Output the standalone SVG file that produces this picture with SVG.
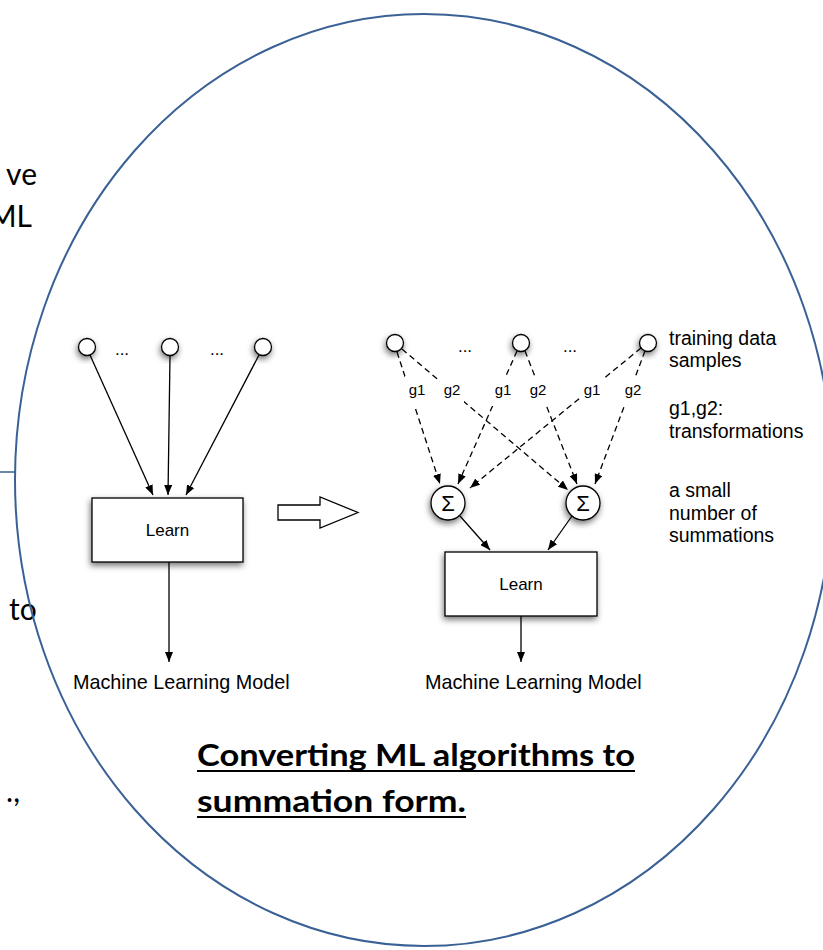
<svg xmlns="http://www.w3.org/2000/svg" width="823" height="950" viewBox="0 0 823 950">
<defs>
<filter id="sh" x="-50%" y="-50%" width="200%" height="200%">
<feDropShadow dx="-1" dy="3" stdDeviation="3" flood-color="#000" flood-opacity="0.55"/>
</filter>
<marker id="ah" viewBox="0 0 10 8" markerWidth="10" markerHeight="8" refX="10" refY="4" orient="auto" markerUnits="userSpaceOnUse">
<path d="M0,0 L10,4 L0,8 z" fill="#000"/>
</marker>
</defs>
<style>
.node{fill:#fff;stroke:#000;stroke-width:1.3;filter:url(#sh)}
.ln{stroke:#000;stroke-width:1.3;fill:none;marker-end:url(#ah)}
.dash{stroke-dasharray:6,4}
.lbl{font-family:"Liberation Sans",Arial,sans-serif;fill:#000}
.slide{font-family:Lato,"Open Sans",sans-serif;font-size:30px;fill:#000}
.title{font-family:Lato,"Open Sans",sans-serif;font-size:31px;font-weight:bold;fill:#000}
</style>
<rect width="823" height="950" fill="#fff"/>

<g id="slide-text">
<text class="slide" x="37" y="185" text-anchor="end">ve</text>
<text class="slide" x="32" y="227" text-anchor="end">ML</text>
<text class="slide" x="9" y="620">to</text>
<text class="slide" x="20" y="802" text-anchor="end">.,</text>
<line x1="0" y1="472" x2="15" y2="472" stroke="#3a6195" stroke-width="1.5"/>
</g>

<g id="oval">
<ellipse cx="424" cy="480" rx="409" ry="466" fill="none" stroke="#3a6195" stroke-width="2"/>
</g>

<g id="connectors">
<line class="ln" x1="90" y1="355" x2="153" y2="495"/>
<line class="ln" x1="170" y1="356" x2="168" y2="495"/>
<line class="ln" x1="259" y1="355" x2="186" y2="495"/>
<line class="ln" x1="169" y1="562" x2="169" y2="662"/>
<line class="ln dash" x1="397" y1="352" x2="440" y2="484"/>
<line class="ln dash" x1="402" y1="349" x2="568" y2="490"/>
<line class="ln dash" x1="517" y1="351" x2="458" y2="484"/>
<line class="ln dash" x1="525" y1="351" x2="577" y2="484"/>
<line class="ln dash" x1="641" y1="348" x2="470" y2="488"/>
<line class="ln dash" x1="645" y1="351" x2="595" y2="484"/>
<line class="ln" x1="460" y1="516" x2="490" y2="550"/>
<line class="ln" x1="572" y1="516" x2="548" y2="550"/>
<line class="ln" x1="521" y1="616" x2="521" y2="662"/>
<path d="M278,505 H320 V497 L358,512.5 L320,528 V520 H278 Z" fill="#fff" stroke="#000" stroke-width="1.3"/>
</g>

<g id="edge-labels">
<g fill="#fff">
<rect x="405" y="376" width="24" height="30"/>
<rect x="440" y="376" width="24" height="30"/>
<rect x="491" y="376" width="24" height="30"/>
<rect x="526" y="376" width="24" height="30"/>
<rect x="580" y="376" width="24" height="30"/>
<rect x="621" y="376" width="24" height="30"/>
</g>
<g class="lbl" font-size="15" text-anchor="middle">
<text x="417" y="395">g1</text>
<text x="452" y="395">g2</text>
<text x="503" y="395">g1</text>
<text x="538" y="395">g2</text>
<text x="592" y="395">g1</text>
<text x="633" y="395">g2</text>
</g>
</g>

<g id="left-inputs">
<circle class="node" cx="87" cy="347" r="8.5"/>
<circle class="node" cx="170" cy="347" r="8.5"/>
<circle class="node" cx="263" cy="347" r="8.5"/>
<text class="lbl" font-size="17" x="122" y="355" text-anchor="middle">...</text>
<text class="lbl" font-size="17" x="217" y="355" text-anchor="middle">...</text>
</g>

<g id="left-learn">
<rect class="node" x="92" y="498" width="151" height="64"/>
<text class="lbl" font-size="17" x="167.5" y="536" text-anchor="middle">Learn</text>
</g>
<g id="left-model">
<text class="lbl" font-size="19.8" x="73" y="689">Machine Learning Model</text>
</g>

<g id="right-inputs">
<circle class="node" cx="395" cy="343" r="8.5"/>
<circle class="node" cx="521" cy="343" r="8.5"/>
<circle class="node" cx="648" cy="343" r="8.5"/>
<text class="lbl" font-size="17" x="465" y="352" text-anchor="middle">...</text>
<text class="lbl" font-size="17" x="570" y="352" text-anchor="middle">...</text>
</g>

<g id="sum1">
<circle class="node" cx="448" cy="503" r="17"/>
<text class="lbl" font-size="22" x="448" y="511" text-anchor="middle">Σ</text>
</g>
<g id="sum2">
<circle class="node" cx="583" cy="503" r="17"/>
<text class="lbl" font-size="22" x="583" y="511" text-anchor="middle">Σ</text>
</g>

<g id="right-learn">
<rect class="node" x="445" y="552" width="152" height="64"/>
<text class="lbl" font-size="17" x="521" y="590" text-anchor="middle">Learn</text>
</g>
<g id="right-model">
<text class="lbl" font-size="19.8" x="425" y="689">Machine Learning Model</text>
</g>

<g id="legend" class="lbl" font-size="19.5">
<text x="669" y="345">training data</text>
<text x="669" y="367">samples</text>
<text x="669" y="415">g1,g2:</text>
<text x="669" y="438">transformations</text>
<text x="669" y="497">a small</text>
<text x="669" y="520">number of</text>
<text x="669" y="542">summations</text>
</g>

<g id="title">
<text class="title" x="197" y="766" textLength="438" lengthAdjust="spacingAndGlyphs">Converting ML algorithms to</text>
<line x1="197" y1="771" x2="635" y2="771" stroke="#000" stroke-width="2"/>
<text class="title" x="197" y="812" textLength="269" lengthAdjust="spacingAndGlyphs">summation form.</text>
<line x1="197" y1="817" x2="466" y2="817" stroke="#000" stroke-width="2"/>
</g>
</svg>
